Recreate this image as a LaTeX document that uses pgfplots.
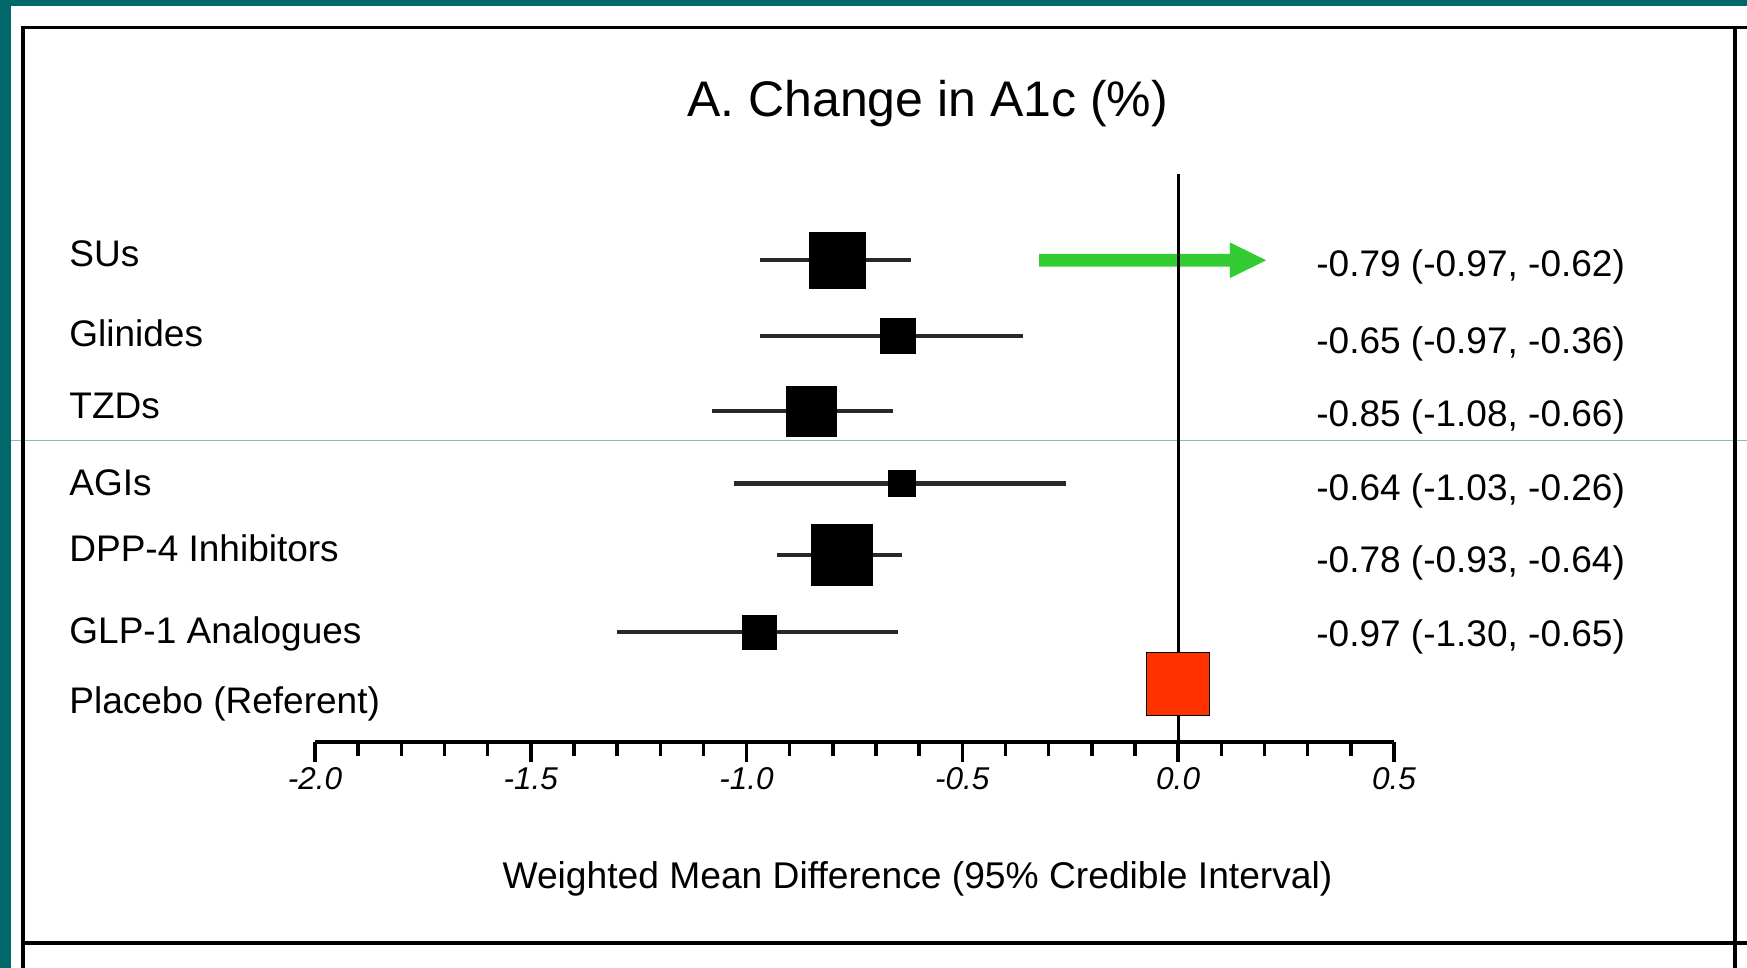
\documentclass[border=0pt]{standalone}
\usepackage{pgfplots}
\pgfplotsset{compat=1.18}
\usepackage{fontspec}
\setmainfont{Liberation Sans}
\definecolor{teal1}{RGB}{0,104,104}
\definecolor{tealline}{RGB}{140,185,185}
\definecolor{arrgreen}{RGB}{51,204,51}
\definecolor{plred}{RGB}{255,51,0}
\definecolor{whiskc}{RGB}{40,40,40}
\begin{document}
\begin{tikzpicture}[x=0.5pt,y=0.5pt]
\path[use as bounding box, fill=white] (0,0) rectangle (1747,968);
% teal strips and faint line
\fill[teal1] (0,0) rectangle (11,968);
\fill[teal1] (0,962) rectangle (1747,968);
\fill[tealline] (11,526.5) rectangle (1747,527.7);
% black frame
\fill[black] (21,0) rectangle (25,942);
\fill[black] (21,939) rectangle (1747,942);
\fill[black] (1733,0) rectangle (1737,941);
\fill[black] (21,23) rectangle (1747,27);

\begin{axis}[
  at={(157.5pt,113pt)}, anchor=south west,
  scale only axis, width=539.45pt, height=284pt,
  xmin=-2, xmax=0.5, ymin=0, ymax=568,
  clip=false,
  axis x line*=bottom, axis y line=none,
  x axis line style={line width=1.75pt},
  xtick={-2,-1.5,-1,-0.5,0,0.5},
  xticklabels={-2.0,-1.5,-1.0,-0.5,0.0,0.5},
  minor x tick num=4,
  tick align=outside,
  major tick length=10pt, minor tick length=7pt,
  every tick/.style={black, line width=1.75pt},
  xticklabel style={font=\fontsize{15.75}{18}\selectfont\itshape, inner sep=2.5pt},
  whisk/.style={color=whiskc, line width=2.2pt, mark=none},
  sq/.style={only marks, mark=square*, mark options={draw=none, fill=black}},
]
% annotation arrow
\fill[arrgreen] (axis cs:-0.322,488.05) -- (axis cs:0.120,488.05) -- (axis cs:0.120,499.55)
  -- (axis cs:0.204,481.7) -- (axis cs:0.120,463.85) -- (axis cs:0.120,475.35)
  -- (axis cs:-0.322,475.35) -- cycle;
% reference line at zero
\addplot[black, line width=1.5pt, mark=none] coordinates {(0,0) (0,568)};
% SUs
\addplot[whisk] coordinates {(-0.97,481.7) (-0.62,481.7)};
\addplot[sq, mark size=14.1pt] coordinates {(-0.79,481.7)};
% Glinides
\addplot[whisk] coordinates {(-0.97,406) (-0.36,406)};
\addplot[sq, mark size=8.75pt] coordinates {(-0.65,406)};
% TZDs
\addplot[whisk] coordinates {(-1.08,330.7) (-0.66,330.7)};
\addplot[sq, mark size=12.5pt] coordinates {(-0.85,330.7)};
% AGIs
\addplot[whisk] coordinates {(-1.03,258.5) (-0.26,258.5)};
\addplot[sq, mark size=6.6pt] coordinates {(-0.64,258.5)};
% DPP-4 Inhibitors
\addplot[whisk] coordinates {(-0.93,186.7) (-0.64,186.7)};
\addplot[sq, mark size=15.25pt] coordinates {(-0.78,186.7)};
% GLP-1 Analogues
\addplot[whisk] coordinates {(-1.30,109.7) (-0.65,109.7)};
\addplot[sq, mark size=8.4pt] coordinates {(-0.97,109.7)};
% Placebo (referent)
\addplot[only marks, mark=square*, mark size=15.75pt, mark options={draw=none, fill=plred}] coordinates {(0,58.5)};
\end{axis}

% title
\node[anchor=base, inner sep=0pt, font=\fontsize{25}{30}\selectfont] at (927.6,851.3) {A. Change in A1c (\%)};
% row labels
\begin{scope}[every node/.style={anchor=base west, inner sep=0pt, font=\fontsize{18.5}{22}\selectfont}]
\node at (69,701.3) {SUs};
\node at (69,621.3) {Glinides};
\node at (69,549) {TZDs};
\node at (69,472) {AGIs};
\node at (69,406.3) {DPP-4 Inhibitors};
\node at (69,324.7) {GLP-1 Analogues};
\node at (69,254.7) {Placebo (Referent)};
\node at (1316,691.3) {-0.79 (-0.97, -0.62)};
\node at (1316,614.3) {-0.65 (-0.97, -0.36)};
\node at (1316,541.3) {-0.85 (-1.08, -0.66)};
\node at (1316,467.3) {-0.64 (-1.03, -0.26)};
\node at (1316,395.3) {-0.78 (-0.93, -0.64)};
\node at (1316,321.3) {-0.97 (-1.30, -0.65)};
\end{scope}
% x label
\node[anchor=base, inner sep=0pt, font=\fontsize{18.6}{22}\selectfont] at (917.5,79.7) {Weighted Mean Difference (95\% Credible Interval)};
\end{tikzpicture}
\end{document}
